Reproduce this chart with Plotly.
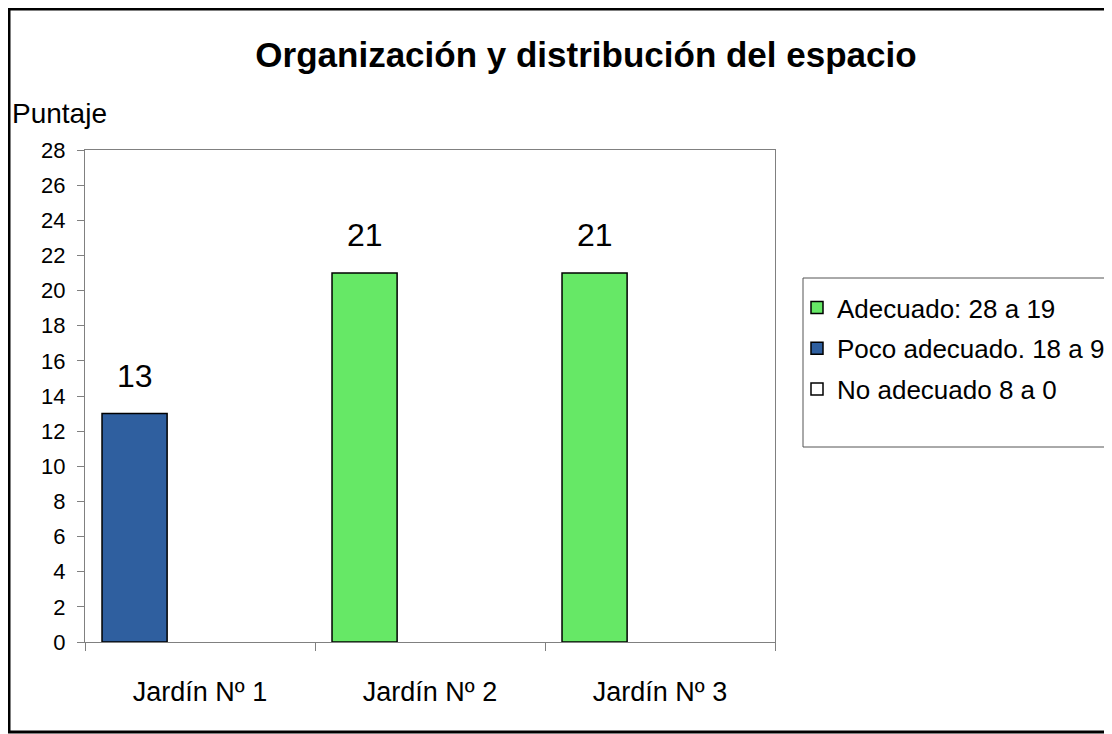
import plotly.graph_objects as go

categories = ["Jardín Nº 1", "Jardín Nº 2", "Jardín Nº 3"]
series_names = ["Adecuado: 28 a 19", "Poco adecuado. 18 a 9", "No adecuado 8 a 0"]
adecuado = [None, 21, 21]
poco_adecuado = [13, None, None]
no_adecuado = [None, None, None]
y_ticks = list(range(0, 29, 2))

colors = ["#66e866", "#2f5f9f", "#ffffff"]
values = [adecuado, poco_adecuado, no_adecuado]

FONT = "Arial, 'Liberation Sans', sans-serif"
BAR_W, BAR_OFF = 0.283, -0.426

# page body has an 8px margin; work in screenshot coordinates minus that offset
OFF = 8
W, H = 1112 - OFF, 734 - OFF
L, R, T, B = 85 - OFF, 775 - OFF, 150 - OFF, 642 - OFF


def px(x):
    return (x - OFF - L) / (R - L)


def py(y):
    return (B - (y - OFF)) / (B - T)


fig = go.Figure()
annotations = []
for name, vals, col in zip(series_names, values, colors):
    fig.add_trace(go.Bar(
        x=categories, y=vals, name=name, legendgroup=name,
        marker=dict(color=col, line=dict(color="#000000", width=1.5)),
        width=BAR_W, offset=BAR_OFF,
    ))
    for i, v in enumerate(vals):
        if v is not None:
            annotations.append(dict(
                x=i + BAR_OFF + BAR_W / 2, y=v, xref="x", yref="y",
                text=str(v), showarrow=False, yanchor="bottom", yshift=18,
                font=dict(size=32, family=FONT, color="#000000")))

annotations.append(dict(text="Puntaje", x=px(10), y=py(113), xref="paper", yref="paper",
                        xanchor="left", yanchor="middle", showarrow=False,
                        font=dict(size=28, family=FONT, color="#000000")))

shapes = [
    # outer frame (left, top, bottom; the right side is cut off in the original)
    dict(type="line", xref="paper", yref="paper", x0=px(9), x1=px(9), y0=py(733), y1=py(8),
         line=dict(color="#000000", width=3)),
    dict(type="line", xref="paper", yref="paper", x0=px(8), x1=px(1140), y0=py(9), y1=py(9),
         line=dict(color="#000000", width=3)),
    dict(type="line", xref="paper", yref="paper", x0=px(8), x1=px(1140), y0=py(732), y1=py(732),
         line=dict(color="#000000", width=3)),
    # legend box
    dict(type="rect", xref="paper", yref="paper", x0=px(803), x1=px(1140),
         y0=py(447), y1=py(278), line=dict(color="#555555", width=1),
         fillcolor="rgba(0,0,0,0)"),
]

fig.update_layout(
    width=W, height=H,
    barmode="overlay",
    paper_bgcolor="white", plot_bgcolor="white",
    font=dict(family=FONT, color="#000000"),
    margin=dict(l=L, r=W - R, t=T, b=H - B, autoexpand=False),
    title=dict(text="<b>Organización y distribución del espacio</b>",
               x=(586 - OFF) / W, xanchor="center", y=1 - (55 - OFF) / H, yanchor="middle",
               font=dict(size=35, family=FONT, color="#000000")),
    showlegend=True,
    legend=dict(x=px(797), y=py(284), xanchor="left", yanchor="top",
                bgcolor="rgba(0,0,0,0)", borderwidth=0,
                font=dict(size=26, family=FONT, color="#000000"),
                tracegroupgap=4, itemwidth=30),
    xaxis=dict(type="category", showgrid=False, showline=True, linecolor="#808080",
               linewidth=1, mirror=True, ticks="outside", tickson="boundaries",
               ticklen=8, tickcolor="#808080", ticklabelstandoff=26,
               tickfont=dict(size=27, family=FONT, color="#000000"),
               range=[-0.5, 2.5]),
    yaxis=dict(range=[0, 28], tickvals=y_ticks, showgrid=False, showline=True,
               linecolor="#808080", linewidth=1, mirror=True, ticks="outside",
               ticklen=7, tickcolor="#808080", zeroline=False, ticklabelstandoff=7,
               tickfont=dict(size=22, family=FONT, color="#000000")),
    annotations=annotations,
    shapes=shapes,
)

fig.write_html("out.html")
